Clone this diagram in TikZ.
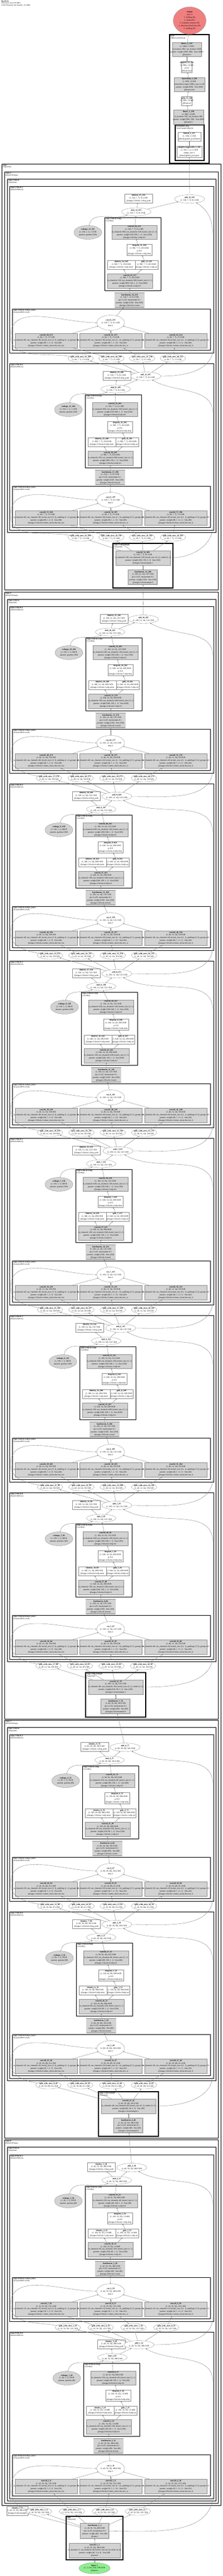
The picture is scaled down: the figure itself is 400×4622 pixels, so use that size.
\documentclass[tikz,border=0pt]{standalone}
\usepackage{fontspec}
\setmainfont{Liberation Serif}
\usetikzlibrary{arrows.meta,shapes.geometric,positioning}

\definecolor{opgray}{RGB}{211,211,211}
\definecolor{outred}{RGB}{240,128,128}
\definecolor{ingreen}{RGB}{144,238,144}

\tikzset{sz/.style 2 args={minimum width=#1pt,minimum height=#2pt}}

\newcommand{\zl}[1]{\makebox[0pt]{#1}}
\newcommand{\idof}[1]{\the\numexpr\nBase+#1\relax}

% channels, hidden width, side, branch width and printed sizes of stage #1
\newcommand{\stagedims}[1]{%
  \ifcase#1\relax
    \def\dC{40}\def\dH{160}\def\dS{56}\def\dG{10}%
    \def\zC{490.0 KB}\def\zH{1.9 MB}\def\zG{122.5 KB}\def\zR{160 B}%
  \or
    \def\dC{80}\def\dH{320}\def\dS{28}\def\dG{20}%
    \def\zC{245.0 KB}\def\zH{980.0 KB}\def\zG{61.2 KB}\def\zR{320 B}%
  \or
    \def\dC{160}\def\dH{640}\def\dS{14}\def\dG{40}%
    \def\zC{122.5 KB}\def\zH{490.0 KB}\def\zG{30.6 KB}\def\zR{640 B}%
  \else
    \def\dC{320}\def\dH{960}\def\dS{7}\def\dG{80}%
    \def\zC{61.2 KB}\def\zH{183.8 KB}\def\zG{15.3 KB}\def\zR{1.2 KB}%
  \fi}

% cluster frame and its label
\newcommand{\mnframe}[8]{%
  \draw[#7] (#1,#2) rectangle (#3,#4);
  \node[grplabel] (#8) at (#1+1.5,#2+1) {\textbf{#5}\\#6};}

% one block: #1 number, #2 stage, #3 index in stage, #4 top,
% #5 left of mlp, #6 x of drop_path, #7 x of mul, #8 x of add, #9 shortcut source
\newcommand{\mnblock}[9]{%
  \stagedims{#2}%
  \pgfmathtruncatemacro{\nCv}{5*#1-3+#2}%
  \pgfmathtruncatemacro{\nBn}{#1+1+#2}%
  \pgfmathtruncatemacro{\nBase}{4+18*(#1-1)+2*#2}%
  \edef\bpath{stages.#2.blocks.#3}%
  \mnframe{17}{#4}{384}{#4+299}{\bpath}{(MetaNeXtBlock)}{frame}{blk#1}
  \mnframe{#5}{#4+56}{#5+101}{#4+187}{\bpath.mlp}{(ConvMlp)}{frame}{mlpf#1}
  \mnframe{22}{#4+220}{378}{#4+294}{\bpath.token\_mixer}{(InceptionDWConv2d)}{frame}{mixf#1}
  \node[plainop,sz={50}{16}] (dp#1) at (#6,#4+22)
    {\zl{\textbf{identity\_\the\numexpr2*#1+1\relax\_\idof{16}}}\\\zl{(1, \dC, \dS, \dS), \zC}\\\zl{@\bpath.drop\_path}};
  \node[tensorop,sz={54}{15}] (add#1) at (#8,#4+23)
    {\zl{\textbf{add\_#1\_\idof{17}}}\\\zl{(1, \dC, \dS, \dS), \zC}};
  \node[tensorop,sz={53}{14}] (mul#1) at (#7,#4+46)
    {\zl{\textbf{mul\_#1\_\idof{15}}}\\\zl{(1, \dC, \dS, \dS), \zC}};
  \node[paramell,sz={50}{25}] (rs#1) at (#5-30,#4+83)
    {\zl{\textbf{reshape\_#1\_\idof{14}}}\\\zl{(1, \dC, 1, 1), \zR}\\\zl{params: gamma (\dC)}};
  \node[paramop,sz={81}{25}] (fcb#1) at (#5+53.5,#4+82.5)
    {\zl{\textbf{conv2d\_\the\numexpr\nCv+4\relax\_\idof{13}}}\\\zl{(1, \dC, \dS, \dS), \zC}\\\zl{in\_channels=\dH, out\_channels=\dC, kernel\_size=(1, 1)}\\\zl{params: weight (\dC, \dH, 1, 1) · bias (\dC)}\\\zl{@\bpath.mlp.fc2}};
  \node[plainop,sz={45}{20}] (drp#1) at (#5+62.5,#4+114)
    {\zl{\textbf{dropout\_#1\_\idof{12}}}\\\zl{(1, \dH, \dS, \dS), \zH}\\\zl{p=0.0}\\\zl{@\bpath.mlp.drop}};
  \node[plainop,sz={50}{16}] (nrm#1) at (#5+30,#4+141)
    {\zl{\textbf{identity\_\the\numexpr2*#1\relax\_\idof{10}}}\\\zl{(1, \dH, \dS, \dS), \zH}\\\zl{@\bpath.mlp.norm}};
  \node[plainop,sz={41}{16}] (gel#1) at (#5+75.5,#4+141)
    {\zl{\textbf{gelu\_#1\_\idof{11}}}\\\zl{(1, \dH, \dS, \dS), \zH}\\\zl{@\bpath.mlp.act}};
  \node[paramop,sz={81}{26}] (fca#1) at (#5+45.5,#4+170)
    {\zl{\textbf{conv2d\_\the\numexpr\nCv+3\relax\_\idof{9}}}\\\zl{(1, \dH, \dS, \dS), \zH}\\\zl{in\_channels=\dC, out\_channels=\dH, kernel\_size=(1, 1)}\\\zl{params: weight (\dH, \dC, 1, 1) · bias (\dH)}\\\zl{@\bpath.mlp.fc1}};
  \node[normop,sz={53}{26}] (bn#1) at (#5+45,#4+205)
    {\zl{\textbf{batchnorm\_\nBn\_\idof{8}}}\\\zl{(1, \dC, \dS, \dS), \zC}\\\zl{eps=1e-05, momentum=0.1}\\\zl{params: weight (\dC) · bias (\dC)}\\\zl{@\bpath.norm}};
  \node[tensorop,sz={50}{27}] (cat#1) at (199,#4+245)
    {\zl{\textbf{cat\_#1\_\idof{7}}}\\\zl{(1, \dC, \dS, \dS), \zC}\\\zl{dim=1}};
  \node[paramop,sz={112}{26}] (hw#1) at (83,#4+277)
    {\zl{\textbf{conv2d\_\nCv\_\idof{4}}}\\\zl{(1, \dG, \dS, \dS), \zG}\\\zl{in\_channels=\dG, out\_channels=\dG, kernel\_size=(3, 3), padding=(1, 1), groups=\dG}\\\zl{params: weight (\dG, 1, 3, 3) · bias (\dG)}\\\zl{@\bpath.token\_mixer.dwconv\_hw}};
  \node[paramop,sz={112}{26}] (cw#1) at (199,#4+277)
    {\zl{\textbf{conv2d\_\the\numexpr\nCv+1\relax\_\idof{5}}}\\\zl{(1, \dG, \dS, \dS), \zG}\\\zl{in\_channels=\dG, out\_channels=\dG, kernel\_size=(1, 11), padding=(0, 5), groups=\dG}\\\zl{params: weight (\dG, 1, 1, 11) · bias (\dG)}\\\zl{@\bpath.token\_mixer.dwconv\_w}};
  \node[paramop,sz={112}{26}] (ch#1) at (316,#4+277)
    {\zl{\textbf{conv2d\_\the\numexpr\nCv+2\relax\_\idof{6}}}\\\zl{(1, \dG, \dS, \dS), \zG}\\\zl{in\_channels=\dG, out\_channels=\dG, kernel\_size=(11, 1), padding=(5, 0), groups=\dG}\\\zl{params: weight (\dG, 1, 11, 1) · bias (\dG)}\\\zl{@\bpath.token\_mixer.dwconv\_h}};
  \draw[flow] (hw#1) -- (cat#1);
  \draw[flow] (cw#1) -- (cat#1);
  \draw[flow] (ch#1) -- (cat#1);
  \draw[flow] (cat#1) -- (bn#1);
  \draw[flow] (bn#1) -- (fca#1);
  \draw[flow] (fca#1) -- (nrm#1);
  \draw[flow] (fca#1) -- (gel#1);
  \draw[flow] (gel#1) -- (drp#1);
  \draw[flow] (drp#1) -- (fcb#1);
  \draw[flow] (fcb#1) -- (mul#1);
  \draw[flow] (rs#1) to[out=80,in=200] (mul#1);
  \draw[flow] (mul#1) -- (dp#1);
  \draw[flow] (mul#1) -- (add#1);
  \draw[flow] (#9) to[out=0,in=-90] (383,#4+290) -- (383,#4+90) to[out=90,in=-30] (add#1);}

% the four splits under block #1: #2 stage, #3 y, #4 first x, #5 step, #6 source
\newcommand{\mnsplits}[6]{%
  \stagedims{#2}%
  \pgfmathtruncatemacro{\nBase}{4+18*(#1-1)+2*#2}%
  \foreach \sk/\sn in {0/a,1/b,2/c,3/d}{
    \node[tensorop,sz={46}{14}] (sp#1\sn) at (#4+\sk*#5,#3)
      {\zl{\textbf{split\_with\_sizes\_\the\numexpr4*#1-3+\sk\relax\_\the\numexpr\nBase+\sk\relax}}\\\zl{(1, \dG, \dS, \dS), \zG}};
    \draw[flow] (#6) -- (sp#1\sn);
  }
  \draw[flow] (sp#1a) to[out=170,in=-90] (19,#3-40) to[out=90,in=180] (cat#1);
  \draw[flow] (sp#1b) -- (hw#1);
  \draw[flow] (sp#1c) -- (cw#1);
  \draw[flow] (sp#1d) -- (ch#1);}

% downsample of stage #1 before block #2: #3 top, #4 centre x, #5 source
\newcommand{\mndown}[5]{%
  \stagedims{\numexpr#1-1\relax}%
  \let\pC\dC \let\pS\dS \let\pZ\zC
  \stagedims{#1}%
  \pgfmathtruncatemacro{\nBase}{4+18*(#2-1)+2*#1}%
  \mnframe{#4-54}{#3}{#4+54}{#3+80}{stages.#1.downsample}{(Sequential)}{heavyframe}{dsf#1}
  \node[paramop,sz={98}{26}] (dsc#1) at (#4,#3+26)
    {\zl{\textbf{conv2d\_\the\numexpr5*#2-4+#1\relax\_\the\numexpr\nBase-1\relax}}\\\zl{(1, \dC, \dS, \dS), \zC}\\\zl{in\_channels=\pC, out\_channels=\dC, kernel\_size=(2, 2), stride=(2, 2)}\\\zl{params: weight (\dC, \pC, 2, 2) · bias (\dC)}\\\zl{@stages.#1.downsample.1}};
  \node[normop,sz={52}{26}] (dsb#1) at (#4,#3+61)
    {\zl{\textbf{batchnorm\_\the\numexpr#2+#1\relax\_\the\numexpr\nBase-2\relax}}\\\zl{(1, \pC, \pS, \pS), \pZ}\\\zl{eps=1e-05, momentum=0.1}\\\zl{params: weight (\pC) · bias (\pC)}\\\zl{@stages.#1.downsample.0}};
  \draw[flow] (#5) -- (dsb#1);
  \draw[flow] (dsb#1) -- (dsc#1);}

\begin{document}
\begin{tikzpicture}
    [x=1pt,y=-1pt,
     every node/.style={font=\fontsize{3.6}{4.9}\selectfont,align=center,inner sep=0pt},
     plainop/.style={rectangle,draw=black!45,line width=0.35pt,fill=white},
     paramop/.style={rectangle,draw=black!45,line width=0.35pt,fill=opgray},
     normop/.style={rectangle,draw=black!45,line width=0.35pt,double=opgray,double distance=0.9pt,fill=opgray},
     tensorop/.style={ellipse,draw=black!45,line width=0.35pt,fill=white},
     paramell/.style={ellipse,draw=black!45,line width=0.35pt,fill=opgray},
     grplabel/.style={anchor=north west,align=left,font=\fontsize{3.2}{3.8}\selectfont},
     frame/.style={draw=black,line width=0.8pt},
     heavyframe/.style={draw=black,line width=1.4pt},
     flow/.style={-{Stealth[length=2.2pt,width=1.6pt]},draw=black!60,line width=0.3pt}]
    \fill[white] (0,0) rectangle (400,4622);
    \useasboundingbox (0,0) rectangle (400,4622);
    \node[anchor=north west,align=left,font=\fontsize{3.1}{3.4}\selectfont] (title) at (2,1)
      {\textbf{MetaNeXt}\\290 tensors total (34.6 MB)\\4,156,520 params (all trainable, 15.9 MB)};

    % outer frames
    \mnframe{3}{294}{397}{4495}{stages}{(Sequential)}{frame}{stagesf}
    \mnframe{8}{308}{392}{1058}{stages.3}{(MetaNeXtStage)}{frame}{st3}
    \mnframe{13}{321}{388}{955}{stages.3.blocks}{(Sequential)}{frame}{bl3}
    \mnframe{8}{1062}{392}{3084}{stages.2}{(MetaNeXtStage)}{frame}{st2}
    \mnframe{13}{1075}{388}{2981}{stages.2.blocks}{(Sequential)}{frame}{bl2}
    \mnframe{8}{3086}{392}{3836}{stages.1}{(MetaNeXtStage)}{frame}{st1}
    \mnframe{13}{3099}{388}{3733}{stages.1.blocks}{(Sequential)}{frame}{bl1}
    \mnframe{8}{3839}{392}{4491}{stages.0}{(MetaNeXtStage)}{frame}{st0}
    \mnframe{13}{3852}{388}{4487}{stages.0.blocks}{(Sequential)}{frame}{bl0}

    % head
    \mnframe{305}{62}{376}{293}{head}{(MlpClassifierHead)}{heavyframe}{headf}
    \mnframe{315}{224}{367}{288}{head.global\_pool}{(SelectAdaptivePool2d)}{heavyframe}{gpf}
    \node[ellipse,draw=black!45,line width=0.35pt,fill=outred,sz={59}{49}] (output) at (341,37)
      {\zl{\textbf{output}}\\\zl{true: 0}\\\zl{1. bullfrog 0\%}\\\zl{2. mitten 0\%}\\\zl{3. Labrador retriever 0\%}\\\zl{4. American black bear 0\%}\\\zl{5. mailbag 0\%}};
    \node[paramop,sz={52}{25}] (fc2) at (336,88.5)
      {\zl{\textbf{linear\_2\_232}}\\\zl{(1, 1000), 3.9 KB}\\\zl{in\_features=960, out\_features=1000}\\\zl{params: weight (1000, 960) · bias (1000)}\\\zl{@head.fc2}};
    \node[plainop,sz={19}{20}] (hdrop) at (336,120)
      {\zl{\textbf{dropout\_13\_231}}\\\zl{(1, 960), 3.8 KB}\\\zl{p=0.0}\\\zl{@head.drop}};
    \node[paramop,sz={55}{25}] (hnorm) at (340.5,151.5)
      {\zl{\textbf{layernorm\_1\_230}}\\\zl{(1, 960), 3.8 KB}\\\zl{normalized\_shape=(960,), eps=1e-06}\\\zl{params: weight (960) · bias (960)}\\\zl{@head.norm}};
    \node[plainop,sz={19}{16}] (hact) at (336,181)
      {\zl{\textbf{gelu\_13\_229}}\\\zl{(1, 960), 3.8 KB}\\\zl{@head.act}};
    \node[paramop,sz={54}{26}] (fc1) at (339,210)
      {\zl{\textbf{linear\_1\_228}}\\\zl{(1, 960), 3.8 KB}\\\zl{in\_features=320, out\_features=960}\\\zl{params: weight (960, 320) · bias (960)}\\\zl{@head.fc1}};
    \node[plainop,sz={41}{16}] (flat) at (340.5,245)
      {\zl{\textbf{flatten\_1\_227}}\\\zl{(1, 320), 1.2 KB}\\\zl{@head.global\_pool.flatten}};
    \node[plainop,sz={45}{20}] (pool) at (340.5,272)
      {\zl{\textbf{adaptiveavgpool2d\_1\_226}}\\\zl{(1, 320, 1, 1), 1.2 KB}\\\zl{output\_size=1}\\\zl{@head.global\_pool.pool}};
    \draw[flow] (pool) -- (flat);
    \draw[flow] (flat) -- (fc1);
    \draw[flow] (fc1) -- (hact);
    \draw[flow] (hact) -- (hnorm);
    \draw[flow] (hnorm) -- (hdrop);
    \draw[flow] (hdrop) -- (fc2);
    \draw[flow] (fc2) -- (output);

    % stem and input
    \mnframe{119}{4515}{221}{4593}{stem}{(Sequential)}{heavyframe}{stemf}
    \node[normop,sz={51}{27}] (stembn) at (170.5,4541.5)
      {\zl{\textbf{batchnorm\_1\_2}}\\\zl{(1, 40, 56, 56), 490.0 KB}\\\zl{eps=1e-05, momentum=0.1}\\\zl{params: weight (40) · bias (40)}\\\zl{@stem.1}};
    \node[paramop,sz={92}{26}] (stemconv) at (170,4576)
      {\zl{\textbf{conv2d\_1\_1}}\\\zl{(1, 40, 56, 56), 490.0 KB}\\\zl{in\_channels=3, out\_channels=40, kernel\_size=(4, 4), stride=(4, 4)}\\\zl{params: weight (40, 3, 4, 4) · bias (40)}\\\zl{@stem.0}};
    \node[ellipse,draw=black!45,line width=0.35pt,fill=ingreen,sz={56}{20}] (input) at (170,4608)
      {\zl{\textbf{input\_1}}\\\zl{(1, 3, 224, 224), 588.0 KB}\\\zl{@input.x}};
    \node[plainop,sz={38}{16}] (dsid) at (31,4505)
      {\zl{\textbf{identity\_1\_3}}\\\zl{(1, 40, 56, 56), 490.0 KB}\\\zl{@stages.0.downsample}};
    \draw[flow] (input) -- (stemconv);
    \draw[flow] (stemconv) -- (stembn);
    \draw[flow] (stembn) -- (dsid);

    % blocks, from the input upwards
    \mnblock{1}{0}{0}{4184}{150}{200}{202}{250}{stembn}
    \mnsplits{1}{0}{4506}{70}{59.3}{stembn}
    \mnblock{2}{0}{1}{3866}{153}{182}{210}{237}{add1}
    \mnsplits{2}{0}{4176}{122}{59}{add1}
    \mndown{1}{3}{3753}{231}{add2}
    \mnblock{3}{1}{0}{3430}{137}{155}{182}{210}{dsc1}
    \mnsplits{3}{1}{3741}{87}{57.3}{dsc1}
    \mnblock{4}{1}{1}{3112}{148}{170}{197}{225}{add3}
    \mnsplits{4}{1}{3420}{90}{56.4}{add3}
    \mndown{2}{5}{3001}{208}{add4}
    \mnblock{5}{2}{0}{2678}{136}{155}{182}{210}{dsc2}
    \mnsplits{5}{2}{2989}{87}{56.7}{dsc2}
    \mnblock{6}{2}{1}{2360}{143}{161}{191}{217}{add5}
    \mnsplits{6}{2}{2668}{90}{56.4}{add5}
    \mnblock{7}{2}{2}{2042}{136}{155}{182}{212}{add6}
    \mnsplits{7}{2}{2350}{90}{56.4}{add6}
    \mnblock{8}{2}{3}{1724}{146}{155}{182}{210}{add7}
    \mnsplits{8}{2}{2032}{90}{56.4}{add7}
    \mnblock{9}{2}{4}{1406}{136}{155}{182}{210}{add8}
    \mnsplits{9}{2}{1714}{90}{56.4}{add8}
    \mnblock{10}{2}{5}{1088}{154}{205}{198}{258}{add9}
    \mnsplits{10}{2}{1396}{88}{57}{add9}
    \mndown{3}{11}{975}{257}{add10}
    \mnblock{11}{3}{0}{652}{153}{210}{208}{262}{dsc3}
    \mnsplits{11}{3}{964}{145}{55.3}{dsc3}
    \mnblock{12}{3}{1}{334}{188}{249}{245}{341}{add11}
    \mnsplits{12}{3}{643}{145}{55.3}{add11}
    \draw[flow] (add12) -- (pool);
\end{tikzpicture}
\end{document}
